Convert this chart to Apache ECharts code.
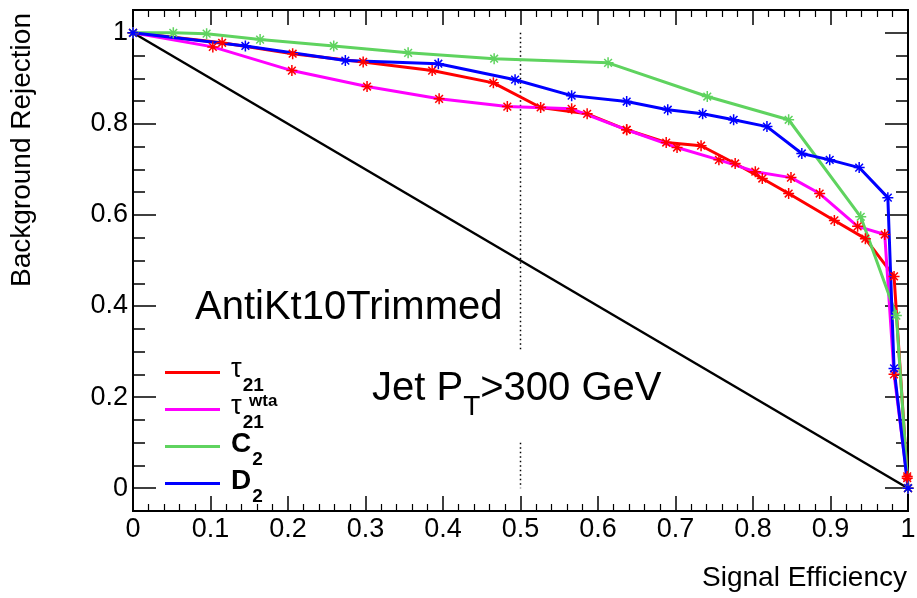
<!DOCTYPE html>
<html><head><meta charset="utf-8">
<script src="https://cdn.jsdelivr.net/npm/echarts@6/dist/echarts.min.js"></script>
<style>html,body{margin:0;padding:0;background:#fff}#c{width:917px;height:598px}</style>
</head><body><div id="c"></div>
<script>
// ---------- data ----------
const legendNames = ['tau21', 'tau21wta', 'C2', 'D2'];
const tau21 = [[0,1],[0.115,0.978],[0.206,0.954],[0.297,0.936],[0.386,0.917],[0.465,0.890],[0.526,0.836],[0.586,0.822],[0.637,0.787],[0.688,0.759],[0.733,0.752],[0.777,0.713],[0.812,0.680],[0.846,0.647],[0.905,0.588],[0.945,0.548],[0.982,0.465],[0.999,0.026],[1,0]];
const tau21wta = [[0,1],[0.103,0.969],[0.205,0.917],[0.302,0.882],[0.395,0.855],[0.483,0.838],[0.566,0.833],[0.637,0.787],[0.702,0.748],[0.756,0.721],[0.803,0.695],[0.849,0.682],[0.886,0.647],[0.935,0.575],[0.970,0.557],[0.982,0.25],[0.999,0.022],[1,0]];
const c2 = [[0,1],[0.052,1.0],[0.095,0.998],[0.164,0.985],[0.259,0.971],[0.355,0.956],[0.466,0.943],[0.613,0.934],[0.741,0.860],[0.846,0.809],[0.939,0.596],[0.985,0.379],[1,0]];
const d2 = [[0,1],[0.145,0.971],[0.274,0.939],[0.394,0.932],[0.493,0.897],[0.566,0.862],[0.637,0.849],[0.690,0.831],[0.735,0.822],[0.775,0.809],[0.818,0.794],[0.863,0.735],[0.899,0.721],[0.937,0.704],[0.974,0.638],[0.982,0.263],[1,0]];
const randomLine = [[0,1],[1,0]];
const cutUpper = [[0.5,1.0],[0.5,0.3]];
const cutLower = [[0.5,0.1],[0.5,0]];
const xMin = 0, xMax = 1, xInterval = 0.1;
const yMin = -0.05, yMax = 1.05;
const yMajorTicks = [0, 0.2, 0.4, 0.6, 0.8, 1];
const yMinorTicks = [0.05,0.1,0.15,0.25,0.3,0.35,0.45,0.5,0.55,0.65,0.7,0.75,0.85,0.9,0.95,1.05];
const xTitle = 'Signal Efficiency';
const yTitle = 'Background Rejection';
const label1 = 'AntiKt10Trimmed';

// ---------- chart ----------
const FONT = 'Liberation Sans';
const chart = echarts.init(document.getElementById('c'), null, {renderer: 'canvas'});
const star = 'path://M5,0L5,10M0,5L10,5M1.5,1.5L8.5,8.5M1.5,8.5L8.5,1.5';
const axisLine = {show: true, onZero: false, lineStyle: {color: '#000', width: 2}};

function yAxis(pos, ticks, len, labels) {
  return {
    type: 'value', position: pos, min: yMin, max: yMax,
    axisLine: axisLine,
    axisTick: {show: true, inside: true, length: len, customValues: ticks, lineStyle: {color: '#000', width: 1.5}},
    axisLabel: labels ? {show: true, customValues: ticks, fontSize: 27, fontFamily: FONT, color: '#000', margin: 5} : {show: false},
    splitLine: {show: false}
  };
}
function xAxis(pos, labels) {
  return {
    type: 'value', position: pos, min: xMin, max: xMax, interval: xInterval,
    axisLine: axisLine,
    axisTick: {show: true, inside: true, length: 15, lineStyle: {color: '#000', width: 1.5}},
    minorTick: {show: true, splitNumber: 5, length: 7, lineStyle: {color: '#000', width: 1.2}},
    axisLabel: labels ? {show: true, fontSize: 27, fontFamily: FONT, color: '#000', margin: 5} : {show: false},
    splitLine: {show: false}, minorSplitLine: {show: false}
  };
}
function curve(name, data, lineColor, markColor) {
  return {
    name: name, type: 'line', data: data, xAxisIndex: 0, yAxisIndex: 0,
    symbol: star, symbolSize: 11, showSymbol: true, showAllSymbol: true,
    itemStyle: {color: lineColor, borderColor: markColor, borderWidth: 1.5},
    lineStyle: {color: lineColor, width: 3},
    emphasis: {disabled: true}, animation: false
  };
}

const option = {
  animation: false,
  grid: {left: 133, right: 9, top: 10, bottom: 87, containLabel: false, outerBoundsMode: 'none'},
  xAxis: [xAxis('bottom', true), xAxis('top', false)],
  yAxis: [yAxis('left', yMajorTicks, 23, true), yAxis('left', yMinorTicks, 12, false),
          yAxis('right', yMajorTicks, 23, false), yAxis('right', yMinorTicks, 12, false)],
  legend: {
    orient: 'vertical', left: 165, top: 356, padding: 0, itemGap: -2,
    itemWidth: 55, itemHeight: 3, icon: 'rect', selectedMode: false,
    itemStyle: {borderWidth: 0},
    data: legendNames,
    formatter: function (n) {
      return {tau21: '{t|τ}{s|21}', tau21wta: '{t|τ}{s|21}', C2: '{m|C}{s|2}', D2: '{m|D}{s|2}'}[n];
    },
    textStyle: {
      color: '#000', fontFamily: FONT,
      rich: {
        t: {fontSize: 27, lineHeight: 33, verticalAlign: 'top', padding: [0, 0, 0, 6], fontFamily: FONT, color: '#000'},
        m: {fontSize: 28, fontWeight: 'bold', lineHeight: 33, verticalAlign: 'top', padding: [0, 0, 0, 6], fontFamily: FONT, color: '#000'},
        s: {fontSize: 19, fontWeight: 'bold', lineHeight: 13, verticalAlign: 'top', padding: [20, 0, 0, 1], fontFamily: FONT, color: '#000'}
      }
    }
  },
  graphic: [
    {type: 'text', x: 22, y: 150, rotation: Math.PI / 2,
     style: {text: yTitle, fontSize: 28, fontFamily: FONT, fill: '#000', align: 'center', verticalAlign: 'middle'}},
    {type: 'text', x: 907, y: 578,
     style: {text: xTitle, fontSize: 28, fontFamily: FONT, fill: '#000', align: 'right', verticalAlign: 'middle'}},
    {type: 'text', x: 195, y: 308,
     style: {text: label1, fontSize: 40, fontFamily: FONT, fill: '#000', align: 'left', verticalAlign: 'middle'}},
    {type: 'text', x: 372, y: 369,
     style: {text: '{n|Jet P}{s|T}{n|>300 GeV}', align: 'left', verticalAlign: 'top', fill: '#000',
       rich: {n: {fontSize: 40, lineHeight: 44, verticalAlign: 'top', fontFamily: FONT, fill: '#000'},
              s: {fontSize: 28, lineHeight: 28, verticalAlign: 'top', padding: [24, 0, 0, 0], fontFamily: FONT, fill: '#000'}}}},
    {type: 'text', x: 249, y: 393,
     style: {text: 'wta', fontSize: 17, fontWeight: 'bold', fontFamily: FONT, fill: '#000', align: 'left', verticalAlign: 'top'}}
  ],
  series: [
    {type: 'line', data: randomLine, symbol: 'none', lineStyle: {color: '#000', width: 2.5}, silent: true, animation: false},
    {type: 'line', data: cutUpper, symbol: 'none', lineStyle: {color: '#000', width: 1.5, type: [1.5, 3]}, silent: true, animation: false},
    {type: 'line', data: cutLower, symbol: 'none', lineStyle: {color: '#000', width: 1.5, type: [1.5, 3]}, silent: true, animation: false},
    curve('tau21', tau21, '#ff0000', '#ff0000'),
    curve('tau21wta', tau21wta, '#ff00ff', '#ff0000'),
    curve('C2', c2, '#5fd35f', '#5fd35f'),
    curve('D2', d2, '#0000ff', '#0000ff')
  ]
};
chart.setOption(option);
</script>
</body></html>
